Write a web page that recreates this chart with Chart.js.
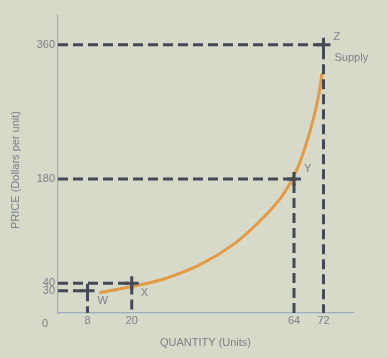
<!DOCTYPE html>
<html>
<head>
<meta charset="utf-8">
<script src="https://cdn.jsdelivr.net/npm/chart.js@4"></script>
<style>
    html, body { margin: 0; padding: 0; background: #d7dac8; }
    #wrap { width: 388px; height: 358px; position: relative; }
</style>
</head>
<body>
<div id="wrap"><canvas id="supplyChart" width="388" height="358"></canvas></div>
<script>
// points marked on the curve
const pointNames = ["W", "X", "Y", "Z"];
const quantities = [8, 20, 64, 72];
const prices = [30, 40, 180, 360];

// supply curve
const curveQty = [11.2, 23, 29.3, 38.4, 47.4, 54.6, 60, 63.2, 65.5, 68.2, 70.5, 71.6];
const curvePrice = [27.3, 38.5, 46.6, 64.5, 91.4, 122.7, 151.9, 176.5, 201, 241.5, 287, 322];

const xTicks = [8, 20, 64, 72];
const yTicks = [30, 40, 180, 360];

const guideColor = "#434a55";
const textColor = "#7b8089";
const axisColor = "#9eabc2";
const fontFamily = "'Liberation Sans', Arial, sans-serif";

// one dashed guide per point: from the price axis to the point, then down to the quantity axis
const guides = quantities.map((q, i) => ({
    data: [{x: 0, y: prices[i]}, {x: q, y: prices[i]}, {x: q, y: 0}],
    borderColor: guideColor,
    borderWidth: 3,
    borderDash: [10, 5],
    pointStyle: "cross",
    pointRadius: [0, 7, 0],
    pointBorderWidth: 3,
    pointBorderColor: guideColor,
    tension: 0,
    order: 1
}));

const curve = {
    data: curveQty.map((q, i) => ({x: q, y: curvePrice[i]})),
    borderColor: "#e39a45",
    borderWidth: 3,
    pointRadius: 0,
    tension: 0.4,
    order: 2
};

const labelsPlugin = {
    id: "labels",
    afterDraw(chart) {
        const c = chart.ctx;
        const xs = chart.scales.x, ys = chart.scales.y;
        c.save();
        c.fillStyle = textColor;
        c.font = "11px " + fontFamily;
        c.textBaseline = "middle";
        c.textAlign = "left";
        const offs = [[10, 10], [9, 10], [10, -10], [10, -8]];
        pointNames.forEach((n, i) => {
            c.fillText(n, xs.getPixelForValue(quantities[i]) + offs[i][0], ys.getPixelForValue(prices[i]) + offs[i][1]);
        });
        c.fillText("Supply", xs.getPixelForValue(72) + 11, ys.getPixelForValue(360) + 13);
        c.textAlign = "center";
        c.fillText("0", 45, 324);
        c.fillText("QUANTITY (Units)", (chart.chartArea.left + chart.chartArea.right) / 2, 343);
        c.translate(16, 170);
        c.rotate(-Math.PI / 2);
        c.fillText("PRICE (Dollars per unit)", 0, 0);
        c.restore();
    }
};

new Chart(document.getElementById("supplyChart"), {
    type: "line",
    data: { datasets: [...guides, curve] },
    options: {
        responsive: false,
        animation: false,
        layout: { padding: { top: 15, right: 35, left: 0, bottom: 0 } },
        plugins: { legend: { display: false }, tooltip: { enabled: false } },
        scales: {
            x: {
                type: "linear",
                min: 0,
                max: 80,
                afterBuildTicks: s => { s.ticks = xTicks.map(v => ({value: v})); },
                afterFit: s => { s.height = 45; },
                grid: { display: false, drawTicks: false },
                border: { color: axisColor, width: 1.2 },
                ticks: { color: textColor, font: { size: 11, family: fontFamily }, padding: 1, autoSkip: false, maxRotation: 0 }
            },
            y: {
                type: "linear",
                min: 0,
                max: 400,
                afterBuildTicks: s => { s.ticks = yTicks.map(v => ({value: v})); },
                afterFit: s => { s.width = 58; },
                grid: { display: false, drawTicks: false },
                border: { color: axisColor, width: 1.2 },
                ticks: { color: textColor, font: { size: 11, family: fontFamily }, padding: 3, autoSkip: false }
            }
        }
    },
    plugins: [labelsPlugin]
});
</script>
</body>
</html>
